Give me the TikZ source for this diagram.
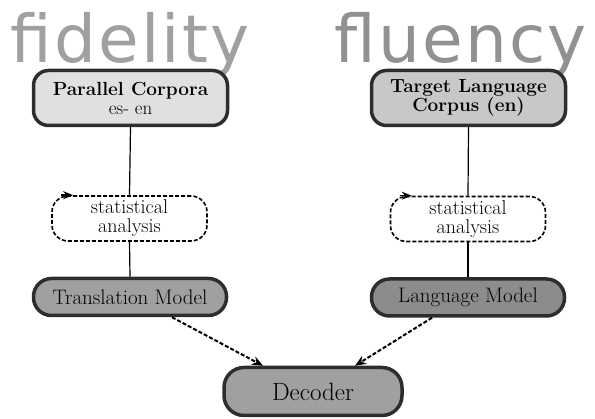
\documentclass[tikz,border=0pt]{standalone}
\usepackage{fontspec}
\newfontfamily\wordfont[LetterSpace=3.5]{DejaVu Sans}
\usetikzlibrary{arrows.meta}

\definecolor{wordgrayA}{RGB}{160,160,160}
\definecolor{wordgrayB}{RGB}{145,145,145}
\definecolor{rim}{RGB}{45,45,45}
\definecolor{paleA}{RGB}{224,224,224}
\definecolor{paleB}{RGB}{200,200,200}
\definecolor{midA}{RGB}{160,160,160}
\definecolor{midB}{RGB}{140,140,140}

\tikzset{
  corpus/.style={draw=rim, line width=3.5pt, rounded corners=15pt,
    minimum width=194pt, minimum height=55pt, align=center,
    font=\fontsize{19}{19}\selectfont, inner sep=2pt},
  model/.style={draw=rim, line width=3.5pt, rounded corners=18pt,
    minimum width=193pt, minimum height=37pt, align=center,
    font=\fontsize{21}{21}\selectfont, inner sep=2pt},
  process/.style={draw=black, line width=1.6pt, dash pattern=on 4pt off 2pt,
    rounded corners=16pt, fill=white, minimum width=155pt, minimum height=45pt,
    align=center, font=\fontsize{20}{19}\selectfont, inner sep=2pt},
  bigword/.style={font=\wordfont\fontsize{66}{66}\selectfont,
    inner sep=0pt, anchor=base west},
  link/.style={draw=black, line width=1.2pt},
  feed/.style={draw=black, line width=2pt, dash pattern=on 4pt off 2pt,
    -{Stealth[length=11pt,width=9pt]}},
  loop/.style={draw=black, line width=1.6pt, -{Stealth[length=10pt,width=8pt]}}
}

\begin{document}
\begin{tikzpicture}[x=1pt,y=1pt]
\useasboundingbox (0,0) rectangle (595,419);

% headline words behind the boxes
\node[bigword, text=wordgrayA] (wfid) at (10,356) {fidelity};
\node[bigword, text=wordgrayB] (wflu) at (334,356) {fluency};

% corpora
\node[corpus, fill=paleA] (pc) at (130.5,321) {\textbf{Parallel Corpora}\\es- en};
\node[corpus, fill=paleB] (tc) at (468.5,321) {\textbf{Target Language}\\\textbf{Corpus (en)}};

% analysis steps
\node[process] (sal) at (129.5,200.5) {statistical\\analysis};
\node[process] (sar) at (468,200) {statistical\\analysis};

% models
\node[model, fill=midA] (tm) at (130,122) {Translation Model};
\node[model, fill=midB] (lm) at (468,121.5) {Language Model};

% decoder
\node[model, fill=midA, rounded corners=20pt, minimum width=178pt, minimum height=48pt,
  font=\fontsize{25}{26}\selectfont] (dec) at (313,27.5) {Decoder};

% vertical links
\draw[link] (pc.south) -- (sal.north);
\draw[link] (sal.south) -- (tm.north);
\draw[link] (tc.south) -- (sar.north);
\draw[link] (sar.south) -- (lm.north);

% loop arrowheads on the dashed outlines
\draw[loop] ([xshift=10pt]sal.north west) -- ([xshift=22pt]sal.north west);
\draw[loop] ([xshift=10pt]sar.north west) -- ([xshift=22pt]sar.north west);

% models feeding the decoder
\draw[feed] ([xshift=42pt]tm.south) -- ([xshift=-50pt]dec.north);
\draw[feed] ([xshift=-36pt]lm.south) -- ([xshift=42pt]dec.north);
\end{tikzpicture}
\end{document}
